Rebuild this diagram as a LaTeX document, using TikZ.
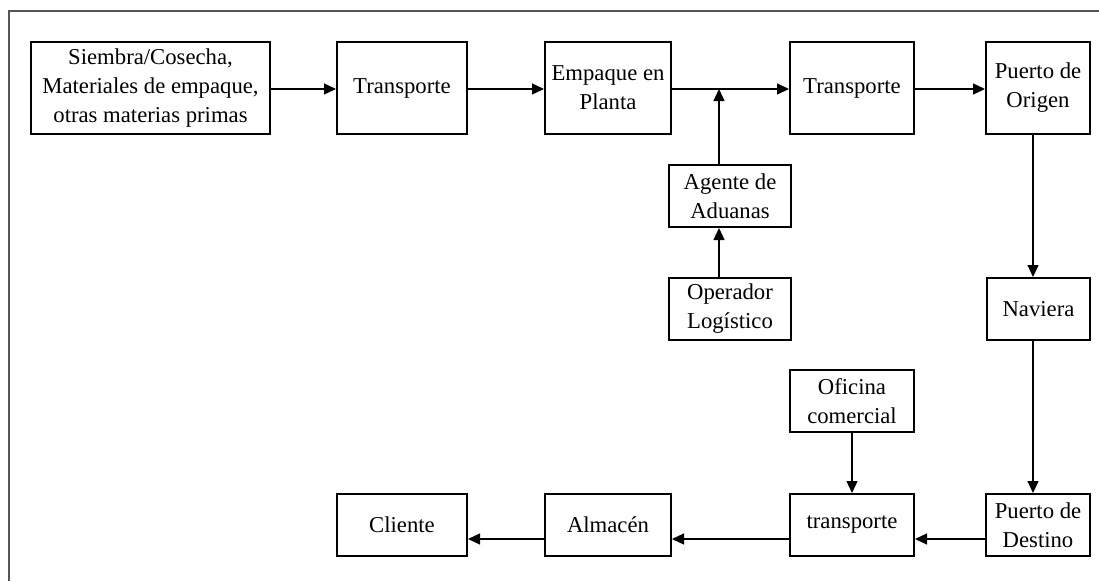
\documentclass[tikz,border=0pt]{standalone}
\usepackage{fontspec}
\setmainfont{Liberation Serif}
\usetikzlibrary{arrows.meta,calc}
\definecolor{framecol}{RGB}{85,85,85}
\tikzset{
  box/.style={draw=black, line width=2pt, inner sep=0pt, align=center,
    font=\fontsize{22.7}{29}\selectfont},
  arr/.style={draw=black, line width=1.3pt, -{Triangle[length=12pt,width=11pt]}},
}
\begin{document}
\begin{tikzpicture}[x=1pt,y=-1pt]
\useasboundingbox (0,0) rectangle (1099,581);
\draw[framecol, line width=1.6pt] (9,581) -- (9,11) -- (1099,11);
% top row
\node[box, minimum width=239pt, minimum height=92pt] (siembra) at (150.5,88) {Siembra/Cosecha,\\Materiales de empaque,\\otras materias primas};
\node[box, minimum width=130pt, minimum height=92pt] (t1) at (402,88) {Transporte};
\node[box, minimum width=126pt, minimum height=92pt] (emp) at (608,88) {Empaque en\\Planta};
\node[box, minimum width=124pt, minimum height=92pt] (t2) at (852,88) {Transporte};
\node[box, minimum width=104pt, minimum height=92pt] (porig) at (1038,88) {Puerto de\\Origen};
% middle
\node[box, minimum width=122pt, minimum height=62pt] (agente) at (730,196) {Agente de\\Aduanas};
\node[box, minimum width=122pt, minimum height=62pt] (oper) at (730,309) {Operador\\Logístico};
\node[box, minimum width=103pt, minimum height=62pt] (nav) at (1038.5,309) {Naviera};
\node[box, minimum width=124pt, minimum height=62pt] (ofic) at (852,401) {Oficina\\comercial};
% bottom row
\node[box, minimum width=124pt, minimum height=62pt] (tlow) at (852,525) {transporte};
\node[box, minimum width=104pt, minimum height=62pt] (pdest) at (1038,525) {Puerto de\\Destino};
\node[box, minimum width=126pt, minimum height=62pt] (alm) at (608,525) {Almacén};
\node[box, minimum width=130pt, minimum height=62pt] (cliente) at (402,525) {Cliente};
% helper coordinates
\coordinate (j) at (719,89);
\coordinate (vx) at (1033,0);
\coordinate (hy) at (0,539);
% connectors
\draw[arr] (siembra.east |- j) -- (t1.west |- j);
\draw[arr] (t1.east |- j) -- (emp.west |- j);
\draw[arr] (emp.east |- j) -- (t2.west |- j);
\draw[arr] (t2.east |- j) -- (porig.west |- j);
\draw[arr] (agente.north -| j) -- (j);
\draw[arr] (oper.north -| j) -- (agente.south -| j);
\draw[arr] (porig.south -| vx) -- (nav.north -| vx);
\draw[arr] (nav.south -| vx) -- (pdest.north -| vx);
\draw[arr] (ofic.south) -- (tlow.north);
\draw[arr] (pdest.west |- hy) -- (tlow.east |- hy);
\draw[arr] (tlow.west |- hy) -- (alm.east |- hy);
\draw[arr] (alm.west |- hy) -- (cliente.east |- hy);
\end{tikzpicture}
\end{document}
